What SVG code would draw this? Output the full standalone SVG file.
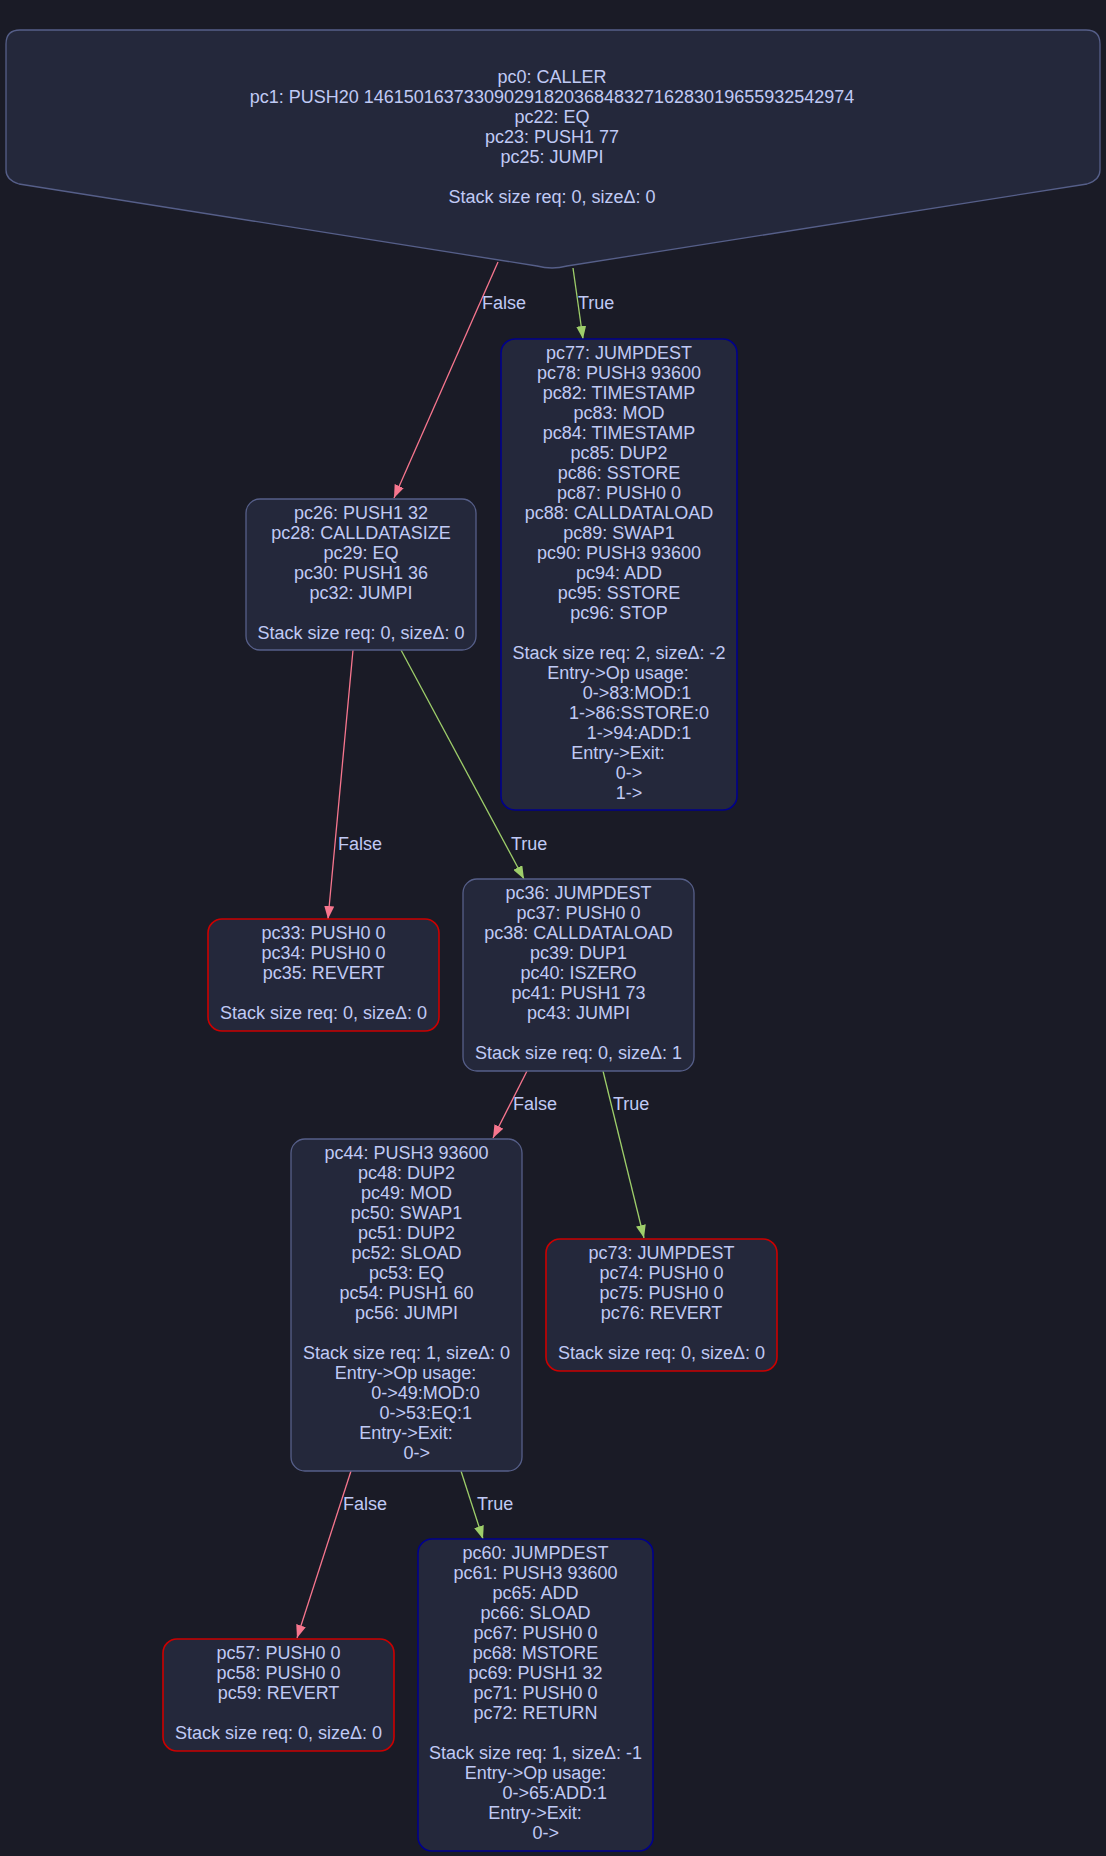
<svg xmlns="http://www.w3.org/2000/svg" width="1106" height="1856" viewBox="0 0 1106 1856">
<style>
  .bg { fill: #1a1b26; }
  .node { fill: #24283b; stroke: #565f89; stroke-width: 1.3; }
  .revert { fill: #24283b; stroke: #cc0000; stroke-width: 1.6; }
  .halt { fill: #24283b; stroke: #00008b; stroke-width: 1.6; }
  text { font-family: "Liberation Sans", Arial, sans-serif; font-size: 18px; fill: #c0caf5; }
  .c { text-anchor: middle; }
  .ef { stroke: #f7768e; stroke-width: 1.3; fill: none; marker-end: url(#af); }
  .et { stroke: #9ece6a; stroke-width: 1.3; fill: none; marker-end: url(#at); }
</style>
<defs>
  <marker id="af" viewBox="0 0 13 10" refX="13" refY="5" markerWidth="13" markerHeight="10" markerUnits="userSpaceOnUse" orient="auto">
    <path d="M0,0 L13,5 L0,10 z" fill="#f7768e"/>
  </marker>
  <marker id="at" viewBox="0 0 13 10" refX="13" refY="5" markerWidth="13" markerHeight="10" markerUnits="userSpaceOnUse" orient="auto">
    <path d="M0,0 L13,5 L0,10 z" fill="#9ece6a"/>
  </marker>
</defs>
<rect class="bg" x="0" y="0" width="1106" height="1856"/>

<g id="edges">
  <line class="ef" x1="498" y1="262" x2="394" y2="498"/>
  <text x="482" y="309">False</text>
  <line class="et" x1="573" y1="268" x2="583" y2="339"/>
  <text x="578" y="309">True</text>
  <line class="ef" x1="353" y1="650" x2="328" y2="919"/>
  <text x="338" y="850">False</text>
  <line class="et" x1="401" y1="650" x2="524" y2="879"/>
  <text x="511" y="850">True</text>
  <line class="ef" x1="527" y1="1071" x2="493" y2="1138"/>
  <text x="513" y="1110">False</text>
  <line class="et" x1="603" y1="1071" x2="644" y2="1238"/>
  <text x="613" y="1110">True</text>
  <line class="ef" x1="351" y1="1471" x2="297" y2="1638"/>
  <text x="343" y="1510">False</text>
  <line class="et" x1="461" y1="1471" x2="483" y2="1539"/>
  <text x="477" y="1510">True</text>
</g>

<g id="node-pc0">
  <path class="node" d="M6,44 Q6,30 20,30 L1086,30 Q1100,30 1100,44 L1100,170 Q1100,180 1087,184 L567,266 Q552,270 537,266 L19,184 Q6,180 6,170 Z"/>
  <text class="c" x="552" y="83">pc0: CALLER</text>
  <text class="c" x="552" y="103">pc1: PUSH20 1461501637330902918203684832716283019655932542974</text>
  <text class="c" x="552" y="123">pc22: EQ</text>
  <text class="c" x="552" y="143">pc23: PUSH1 77</text>
  <text class="c" x="552" y="163">pc25: JUMPI</text>
  <text class="c" x="552" y="203">Stack size req: 0, sizeΔ: 0</text>
</g>

<g id="node-pc26">
  <rect class="node" x="246" y="499" width="230" height="151" rx="14"/>
  <text class="c" x="361" y="519">pc26: PUSH1 32</text>
  <text class="c" x="361" y="539">pc28: CALLDATASIZE</text>
  <text class="c" x="361" y="559">pc29: EQ</text>
  <text class="c" x="361" y="579">pc30: PUSH1 36</text>
  <text class="c" x="361" y="599">pc32: JUMPI</text>
  <text class="c" x="361" y="639">Stack size req: 0, sizeΔ: 0</text>
</g>

<g id="node-pc77">
  <rect class="halt" x="501" y="339" width="236" height="471" rx="14"/>
  <text class="c" x="619" y="359">pc77: JUMPDEST</text>
  <text class="c" x="619" y="379">pc78: PUSH3 93600</text>
  <text class="c" x="619" y="399">pc82: TIMESTAMP</text>
  <text class="c" x="619" y="419">pc83: MOD</text>
  <text class="c" x="619" y="439">pc84: TIMESTAMP</text>
  <text class="c" x="619" y="459">pc85: DUP2</text>
  <text class="c" x="619" y="479">pc86: SSTORE</text>
  <text class="c" x="619" y="499">pc87: PUSH0 0</text>
  <text class="c" x="619" y="519">pc88: CALLDATALOAD</text>
  <text class="c" x="619" y="539">pc89: SWAP1</text>
  <text class="c" x="619" y="559">pc90: PUSH3 93600</text>
  <text class="c" x="619" y="579">pc94: ADD</text>
  <text class="c" x="619" y="599">pc95: SSTORE</text>
  <text class="c" x="619" y="619">pc96: STOP</text>
  <text class="c" x="619" y="659">Stack size req: 2, sizeΔ: -2</text>
  <text class="c" x="618" y="679">Entry-&gt;Op usage:</text>
  <text class="c" x="637" y="699">0-&gt;83:MOD:1</text>
  <text class="c" x="639" y="719">1-&gt;86:SSTORE:0</text>
  <text class="c" x="639" y="739">1-&gt;94:ADD:1</text>
  <text class="c" x="618" y="759">Entry-&gt;Exit:</text>
  <text class="c" x="629" y="779">0-&gt;</text>
  <text class="c" x="629" y="799">1-&gt;</text>
</g>

<g id="node-pc33">
  <rect class="revert" x="208" y="919" width="231" height="112" rx="14"/>
  <text class="c" x="323.5" y="939">pc33: PUSH0 0</text>
  <text class="c" x="323.5" y="959">pc34: PUSH0 0</text>
  <text class="c" x="323.5" y="979">pc35: REVERT</text>
  <text class="c" x="323.5" y="1019">Stack size req: 0, sizeΔ: 0</text>
</g>

<g id="node-pc36">
  <rect class="node" x="463" y="879" width="231" height="192" rx="14"/>
  <text class="c" x="578.5" y="899">pc36: JUMPDEST</text>
  <text class="c" x="578.5" y="919">pc37: PUSH0 0</text>
  <text class="c" x="578.5" y="939">pc38: CALLDATALOAD</text>
  <text class="c" x="578.5" y="959">pc39: DUP1</text>
  <text class="c" x="578.5" y="979">pc40: ISZERO</text>
  <text class="c" x="578.5" y="999">pc41: PUSH1 73</text>
  <text class="c" x="578.5" y="1019">pc43: JUMPI</text>
  <text class="c" x="578.5" y="1059">Stack size req: 0, sizeΔ: 1</text>
</g>

<g id="node-pc44">
  <rect class="node" x="291" y="1139" width="231" height="332" rx="14"/>
  <text class="c" x="406.5" y="1159">pc44: PUSH3 93600</text>
  <text class="c" x="406.5" y="1179">pc48: DUP2</text>
  <text class="c" x="406.5" y="1199">pc49: MOD</text>
  <text class="c" x="406.5" y="1219">pc50: SWAP1</text>
  <text class="c" x="406.5" y="1239">pc51: DUP2</text>
  <text class="c" x="406.5" y="1259">pc52: SLOAD</text>
  <text class="c" x="406.5" y="1279">pc53: EQ</text>
  <text class="c" x="406.5" y="1299">pc54: PUSH1 60</text>
  <text class="c" x="406.5" y="1319">pc56: JUMPI</text>
  <text class="c" x="406.5" y="1359">Stack size req: 1, sizeΔ: 0</text>
  <text class="c" x="405.5" y="1379">Entry-&gt;Op usage:</text>
  <text class="c" x="425.5" y="1399">0-&gt;49:MOD:0</text>
  <text class="c" x="425.7" y="1419">0-&gt;53:EQ:1</text>
  <text class="c" x="406" y="1439">Entry-&gt;Exit:</text>
  <text class="c" x="416.7" y="1459">0-&gt;</text>
</g>

<g id="node-pc73">
  <rect class="revert" x="546" y="1239" width="231" height="132" rx="14"/>
  <text class="c" x="661.5" y="1259">pc73: JUMPDEST</text>
  <text class="c" x="661.5" y="1279">pc74: PUSH0 0</text>
  <text class="c" x="661.5" y="1299">pc75: PUSH0 0</text>
  <text class="c" x="661.5" y="1319">pc76: REVERT</text>
  <text class="c" x="661.5" y="1359">Stack size req: 0, sizeΔ: 0</text>
</g>

<g id="node-pc57">
  <rect class="revert" x="163" y="1639" width="231" height="112" rx="14"/>
  <text class="c" x="278.5" y="1659">pc57: PUSH0 0</text>
  <text class="c" x="278.5" y="1679">pc58: PUSH0 0</text>
  <text class="c" x="278.5" y="1699">pc59: REVERT</text>
  <text class="c" x="278.5" y="1739">Stack size req: 0, sizeΔ: 0</text>
</g>

<g id="node-pc60">
  <rect class="halt" x="418" y="1539" width="235" height="312" rx="14"/>
  <text class="c" x="535.5" y="1559">pc60: JUMPDEST</text>
  <text class="c" x="535.5" y="1579">pc61: PUSH3 93600</text>
  <text class="c" x="535.5" y="1599">pc65: ADD</text>
  <text class="c" x="535.5" y="1619">pc66: SLOAD</text>
  <text class="c" x="535.5" y="1639">pc67: PUSH0 0</text>
  <text class="c" x="535.5" y="1659">pc68: MSTORE</text>
  <text class="c" x="535.5" y="1679">pc69: PUSH1 32</text>
  <text class="c" x="535.5" y="1699">pc71: PUSH0 0</text>
  <text class="c" x="535.5" y="1719">pc72: RETURN</text>
  <text class="c" x="535.5" y="1759">Stack size req: 1, sizeΔ: -1</text>
  <text class="c" x="535.5" y="1779">Entry-&gt;Op usage:</text>
  <text class="c" x="554.7" y="1799">0-&gt;65:ADD:1</text>
  <text class="c" x="535" y="1819">Entry-&gt;Exit:</text>
  <text class="c" x="545.8" y="1839">0-&gt;</text>
</g>
</svg>
